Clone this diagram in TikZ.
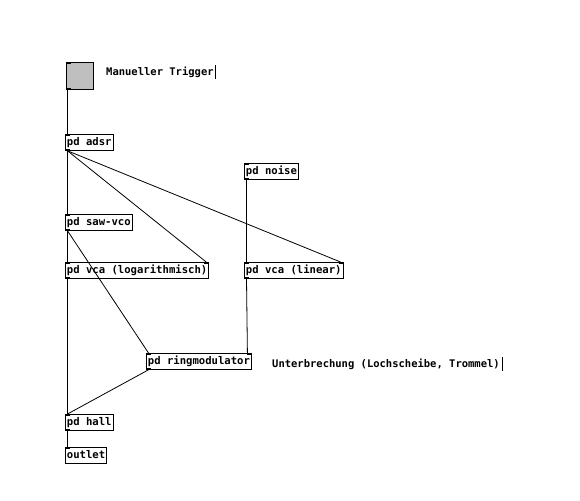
\documentclass[tikz,border=0pt]{standalone}
\usepackage{fontspec}
\setmonofont{DejaVu Sans Mono}
\begin{document}
\begin{tikzpicture}[x=1pt,y=-1pt,
  obj/.style={draw=black, line width=0.8pt, anchor=north west, minimum height=16pt, inner xsep=1.5pt, inner ysep=0pt, font=\ttfamily\bfseries\fontsize{10.6}{12}\selectfont, text height=8pt, text depth=2pt},
  cmt/.style={anchor=west, inner sep=0pt, font=\ttfamily\bfseries\fontsize{10.5}{12}\selectfont},
  wire/.style={draw=black, line width=0.8pt},
  io/.style={line width=2pt}]
\useasboundingbox (0,0) rectangle (580,500);
% bang
\node[draw=black, line width=0.8pt, fill=black!25, anchor=north west, minimum width=27pt, minimum height=27pt, inner sep=0pt] (bang) at (66,62) {};
\node[cmt] (trig) at (106,72) {Manueller Trigger};
\draw[line width=0.8pt] ([xshift=2pt,yshift=-7pt]trig.east) -- ([xshift=2pt,yshift=7pt]trig.east);
% objects
\node[obj] (adsr) at (65,134) {pd adsr};
\node[obj] (noise) at (244,163) {pd noise};
\node[obj] (saw) at (65,214) {pd saw-vco};
\node[obj] (vcalog) at (65,262) {pd vca (logarithmisch)};
\node[obj] (vcalin) at (244,262) {pd vca (linear)};
\node[obj] (ring) at (146,353) {pd ringmodulator};
\node[cmt] (unt) at (272,364) {Unterbrechung (Lochscheibe, Trommel)};
\draw[line width=0.8pt] ([xshift=2pt,yshift=-7pt]unt.east) -- ([xshift=2pt,yshift=7pt]unt.east);
\node[obj] (hall) at (65,414) {pd hall};
\node[obj] (outlet) at (65,447) {outlet};
% inlet/outlet marks
\foreach \n in {adsr,noise,saw,vcalog,vcalin,ring,hall,outlet}{
  \draw[io] ([xshift=0.5pt,yshift=-1pt]\n.north west) -- ([xshift=5pt,yshift=-1pt]\n.north west);
}
\foreach \n in {adsr,noise,saw,vcalog,vcalin,ring,hall}{
  \draw[io] ([xshift=0.5pt,yshift=1pt]\n.south west) -- ([xshift=5pt,yshift=1pt]\n.south west);
}
\foreach \n in {vcalog,vcalin,ring}{
  \draw[io] ([xshift=-0.5pt,yshift=-1pt]\n.north east) -- ([xshift=-5pt,yshift=-1pt]\n.north east);
}
\draw[io] ([xshift=0.5pt,yshift=-1pt]bang.north west) -- ([xshift=5pt,yshift=-1pt]bang.north west);
\draw[io] ([xshift=0.5pt,yshift=1pt]bang.south west) -- ([xshift=5pt,yshift=1pt]bang.south west);
% connections
\draw[wire] ([xshift=1.5pt]bang.south west) -- ([xshift=2.5pt]adsr.north west);
\draw[wire] ([xshift=2.5pt]adsr.south west) -- ([xshift=2.5pt]saw.north west);
\draw[wire] ([xshift=2.5pt]adsr.south west) -- ([xshift=-3pt]vcalog.north east);
\draw[wire] ([xshift=2.5pt]adsr.south west) -- ([xshift=-3pt]vcalin.north east);
\draw[wire] ([xshift=2.5pt]noise.south west) -- ([xshift=2.5pt]vcalin.north west);
\draw[wire] ([xshift=2.5pt]saw.south west) -- ([xshift=2.5pt]vcalog.north west);
\draw[wire] ([xshift=2.5pt]saw.south west) -- ([xshift=2.5pt]ring.north west);
\draw[wire] ([xshift=2.5pt]vcalin.south west) -- ([xshift=-4.5pt]ring.north east);
\draw[wire] ([xshift=2.5pt]vcalog.south west) -- ([xshift=2.5pt]hall.north west);
\draw[wire] ([xshift=2.5pt]ring.south west) -- ([xshift=2.5pt]hall.north west);
\draw[wire] ([xshift=2.5pt]hall.south west) -- ([xshift=2.5pt]outlet.north west);
\end{tikzpicture}
\end{document}
